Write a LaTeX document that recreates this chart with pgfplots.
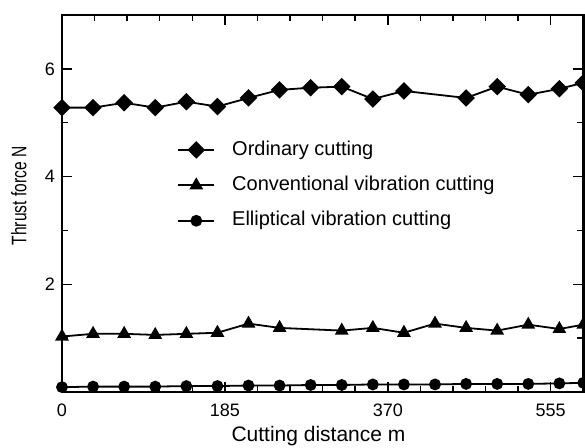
\documentclass[border=0pt]{standalone}
\usepackage{fontspec}
\setmainfont{Liberation Sans}
\usepackage{graphicx}
\usepackage{pgfplots}
\pgfplotsset{compat=1.18}

% thrust force (N) against cutting distance (m)
\pgfplotstableread{
x     f
0     5.28
35.3  5.28
70.6  5.37
105.9 5.28
141.2 5.39
176.5 5.30
211.8 5.46
247.1 5.61
282.4 5.65
317.7 5.67
353.0 5.44
388.3 5.59
458.9 5.46
494.2 5.67
529.5 5.52
564.8 5.63
592   5.74
}\ordinary
\pgfplotstableread{
x     f
0     1.03
35.3  1.08
70.6  1.08
105.9 1.06
141.2 1.08
176.5 1.10
211.8 1.27
247.1 1.19
317.7 1.14
353.0 1.19
388.3 1.10
423.6 1.27
458.9 1.19
494.2 1.14
529.5 1.25
564.8 1.17
592   1.25
}\conventional
\pgfplotstableread{
x     f
0     0.09
35.3  0.10
70.6  0.10
105.9 0.10
141.2 0.11
176.5 0.11
211.8 0.12
247.1 0.12
282.4 0.13
317.7 0.13
353.0 0.14
388.3 0.14
423.6 0.14
458.9 0.15
494.2 0.15
529.5 0.15
564.8 0.16
592   0.17
}\elliptical

\begin{document}
\begin{tikzpicture}
\path[use as bounding box] (-31pt,-28pt) rectangle (261.5pt,196pt);
\begin{axis}[
  at={(0,0)}, anchor=south west,
  scale only axis, width=260.65pt, height=188.5pt,
  xmin=0, xmax=592, ymin=0, ymax=7,
  xtick={0,185,370,555}, minor xtick={37,74,111,148,222,259,296,333,407,444,481,518,592},
  ytick={2,4,6}, minor ytick={1,3,5},
  tick align=inside,
  major tick length=5pt, minor tick length=3pt,
  every tick/.style={black, line width=0.75pt},
  axis line style={line width=1.2pt},
  /pgf/number format/assume math mode=true,
  tick label style={font=\fontsize{9}{11}\selectfont},
  xticklabel style={yshift=-2.5pt},
  xlabel={Cutting distance m},
  ylabel={\scalebox{0.74}[1]{Thrust force N}},
  label style={font=\fontsize{10.5}{12}\selectfont},
  xlabel style={at={(axis description cs:0.492,-0.118)}, anchor=center},
  ylabel style={at={(axis description cs:-0.0825,0.52)}, anchor=center},
  legend image code/.code={
    \draw[mark repeat=2,mark phase=2,#1] plot coordinates {(0pt,0pt)(9pt,0pt)(18pt,0pt)};
    \path (26.5pt,0pt);
  },
  legend style={at={(axis description cs:0.2206,0.6675)}, anchor=north west,
    draw=none, fill=none, inner sep=0pt, row sep=8.5pt,
    font=\fontsize{10}{12}\selectfont,
    nodes={inner sep=0pt, text height=7.2pt, text depth=2pt}},
  legend cell align=left,
]
\addplot[black, line width=0.9pt, mark=square*, mark size=2.65pt,
  mark options={rotate=45, solid}] table[x=x, y=f] {\ordinary};
\addlegendentry{Ordinary cutting}
\addplot[black, line width=0.9pt, mark=triangle*, mark size=3.1pt,
  mark options={solid}] table[x=x, y=f] {\conventional};
\addlegendentry{Conventional vibration cutting}
\addplot[black, line width=0.9pt, mark=*, mark size=2.5pt,
  mark options={solid}] table[x=x, y=f] {\elliptical};
\addlegendentry{Elliptical vibration cutting}
\end{axis}
\end{tikzpicture}
\end{document}
